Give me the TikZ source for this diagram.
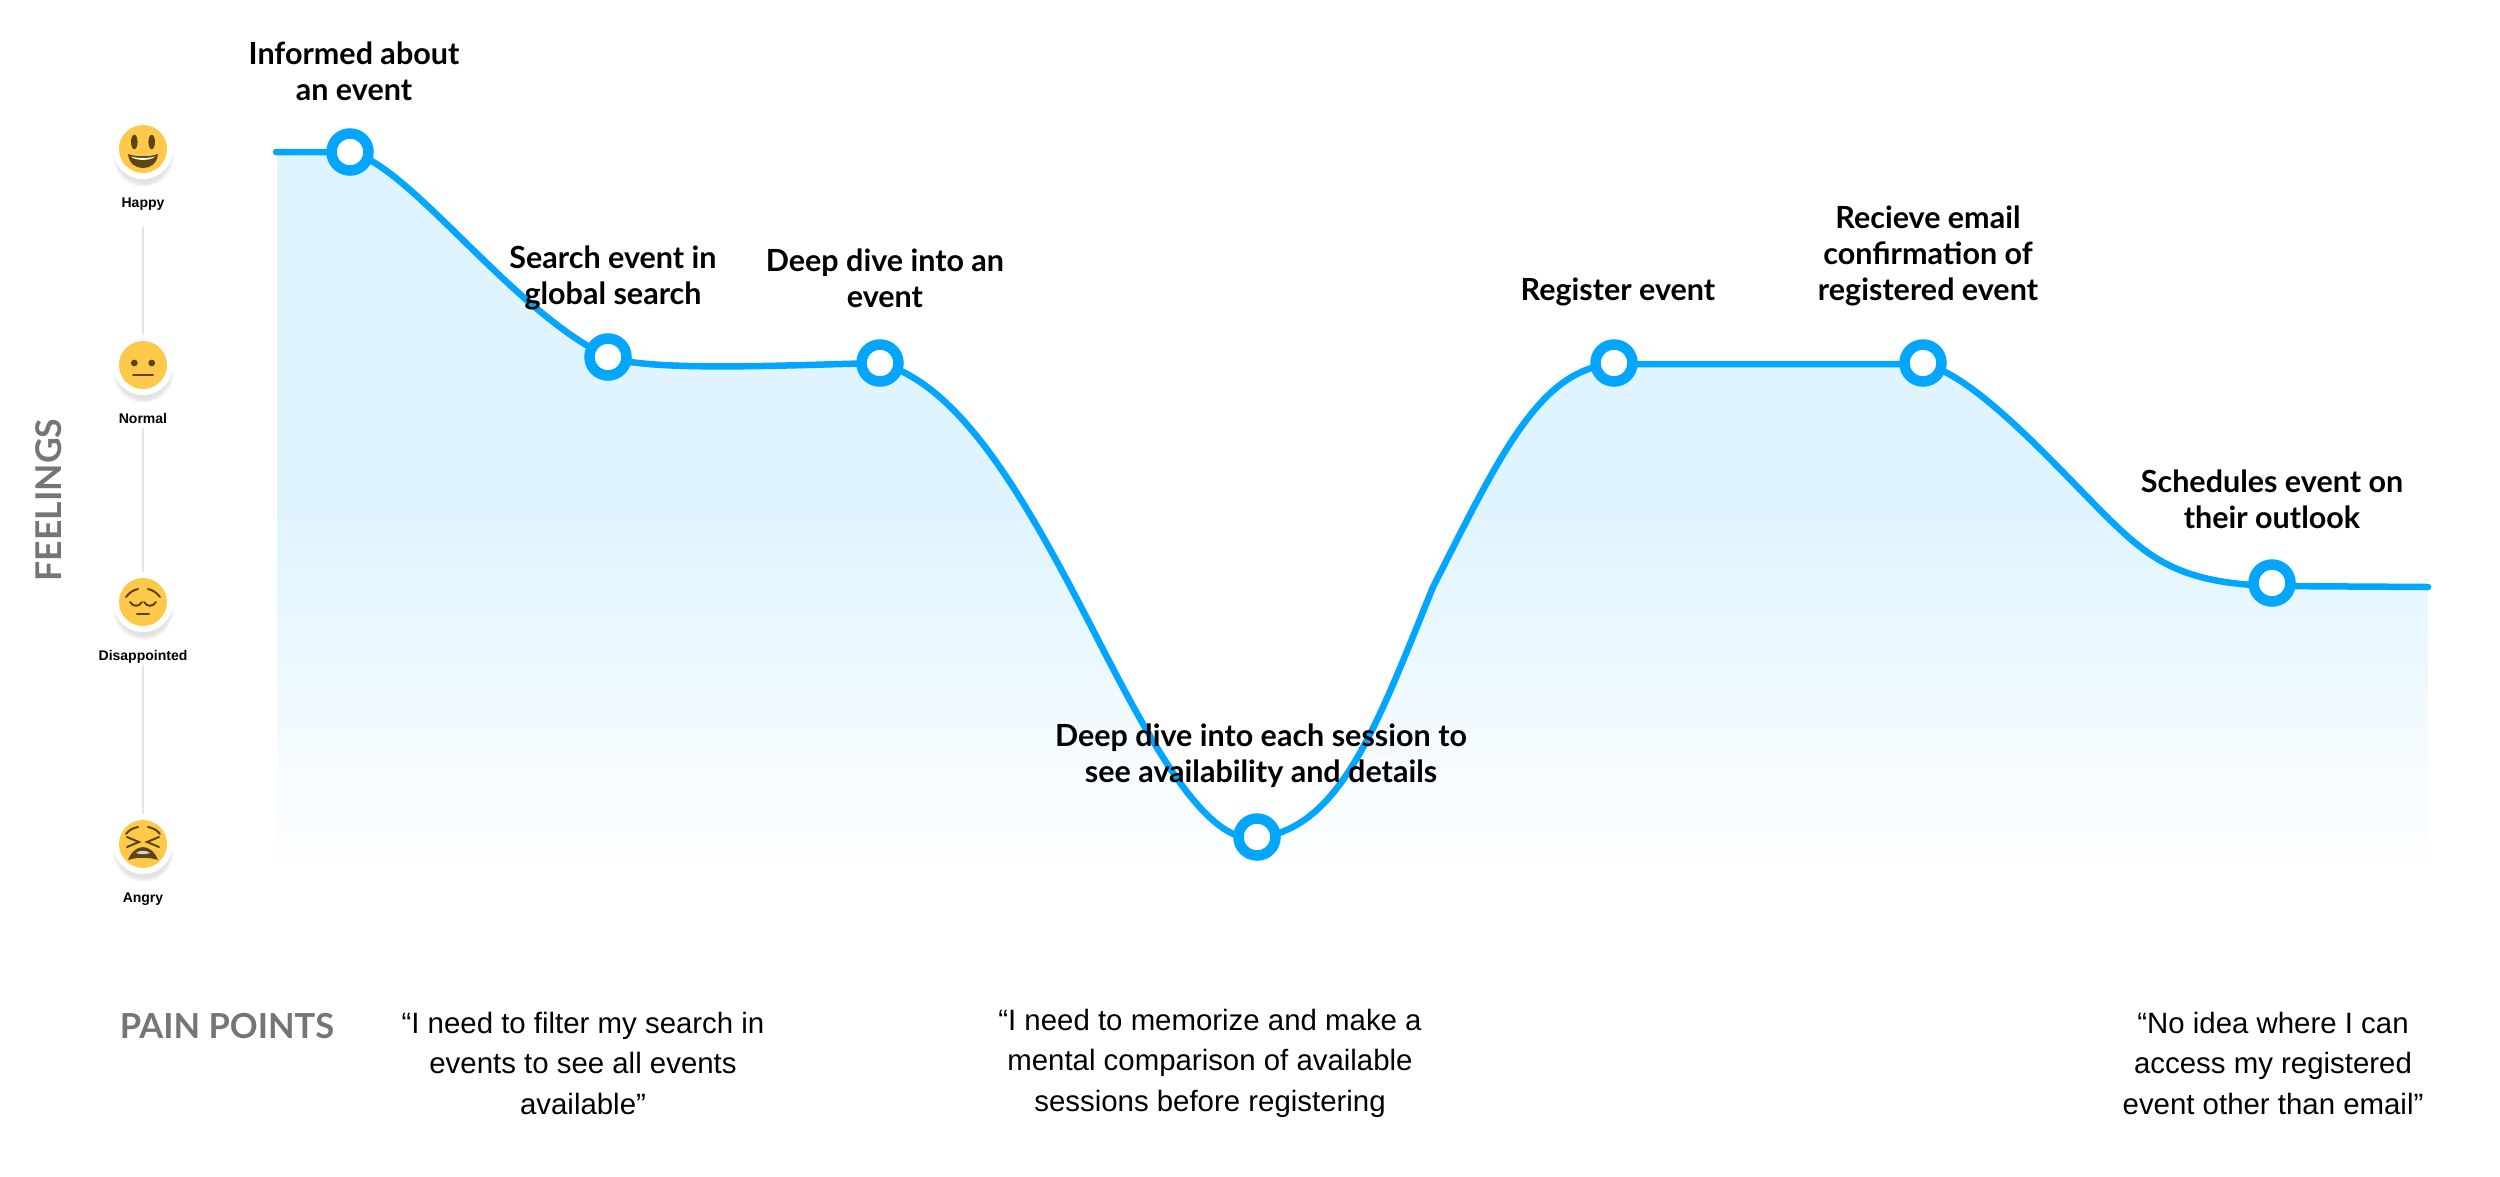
\documentclass[tikz,border=0pt]{standalone}
\usepackage{fontspec}
\setmainfont{Lato}
\newfontfamily\quotefont{Liberation Sans}
\usetikzlibrary{arrows.meta,positioning,shadows}
\definecolor{curveBlue}{HTML}{03A6FF}
\definecolor{softBlue}{HTML}{E0F4FF}
\definecolor{faceAmber}{HTML}{FEC84B}
\definecolor{faceBrown}{HTML}{5E4410}
\definecolor{toothGray}{HTML}{C9D6DC}
\definecolor{titleGray}{HTML}{757575}
\definecolor{lineGray}{HTML}{E4E4E4}
\newcommand{\feelingCurve}{(curveStart) -- (informedPt)
  .. controls (410,165) and (510,310) .. (searchPt)
  .. controls (650,372) and (790,365) .. (divePt)
  .. controls (960,385) and (1023,494) .. (midFall)
  .. controls (1150,741) and (1205,845) .. (sessionPt)
  .. controls (1340,828) and (1375,730) .. (midRise)
  .. controls (1500,455) and (1540,368) .. (registerPt)
  -- (confirmPt)
  .. controls (1975,375) and (2055,465) .. (midDrop)
  .. controls (2150,560) and (2180,583) .. (outlookPt)
  -- (curveEnd)}

\begin{document}
\begin{tikzpicture}[
        x=1pt, y=-1pt,
        stopring/.style={circle, draw=curveBlue, fill=white, line width=10.5pt, minimum size=37pt, inner sep=0pt},
        stoptext/.style={align=center, inner sep=0pt, text=black, font=\fontsize{30.5}{36}\selectfont\bfseries},
        quotetext/.style={align=center, inner sep=0pt, text=black, font=\quotefont\fontsize{29.4}{40.5}\selectfont},
        title/.style={inner sep=0pt, text=titleGray, font=\fontsize{34.5}{40}\selectfont\bfseries},
        badge/.style={circle, fill=white, minimum size=60pt, inner sep=0pt, circular drop shadow={shadow xshift=0pt, shadow yshift=-7pt, shadow scale=1.03, opacity=.22}},
        moodtext/.style={inner sep=0pt, text height=11pt, text depth=3.5pt, text=black, font=\quotefont\fontsize{14}{18}\selectfont\bfseries},
        face/.style={fill=faceAmber},
        feature/.style={draw=faceBrown, line width=2pt, line cap=round},
        scaleline/.style={draw=lineGray, line width=1.5pt},
        curve/.style={draw=curveBlue, line width=6.5pt, line cap=round, line join=round}
      ]
        \useasboundingbox (0,0) rectangle (2500,1176);
        % points on the curve
        \coordinate (curveStart) at (276,152);
        \coordinate (informedPt) at (350,152);
        \coordinate (searchPt) at (608,357);
        \coordinate (divePt) at (880,363);
        \coordinate (midFall) at (1093,630);
        \coordinate (sessionPt) at (1257,838);
        \coordinate (midRise) at (1433,587);
        \coordinate (registerPt) at (1614,364);
        \coordinate (confirmPt) at (1924,364);
        \coordinate (midDrop) at (2103,513);
        \coordinate (outlookPt) at (2272,586);
        \coordinate (curveEnd) at (2428,587);
        \coordinate (areaRight) at (2428,880);
        \coordinate (areaLeft) at (277,880);

        \path[top color=softBlue, bottom color=white, middle color=softBlue] (277,152) -- \feelingCurve -- (areaRight) -- (areaLeft) -- cycle;
        \draw[curve] \feelingCurve;

        \node[stopring] (informed) at (350,152) {};
        \node[stopring] (search) at (608,357) {};
        \node[stopring] (dive) at (880,363) {};
        \node[stopring] (session) at (1257,837) {};
        \node[stopring] (register) at (1614,363) {};
        \node[stopring] (confirm) at (1923,363) {};
        \node[stopring] (outlook) at (2272,583) {};

        \node[stoptext] (informedText) at (354,71) {Informed about\\an event};
        \node[stoptext] (searchText) at (613,278) {Search event in\\global search};
        \node[stoptext] (diveText) at (885,278) {Deep dive into an\\event};
        \node[stoptext] (sessionText) at (1261,756) {Deep dive into each session to\\see availability and details};
        \node[stoptext] (registerText) at (1618,292) {Register event};
        \node[stoptext] (confirmText) at (1928,256) {Recieve email\\confirmation of\\registered event};
        \node[stoptext] (outlookText) at (2272,499) {Schedules event on\\their outlook};

        % mood scale
        \node[badge] (happy) at (143,149) {};
        \node[badge] (normal) at (143,365) {};
        \node[badge] (sad) at (143,602) {};
        \node[badge] (angry) at (143,844) {};
        \node[moodtext] (happyText) at (143,204) {Happy};
        \node[moodtext] (normalText) at (143,420) {Normal};
        \node[moodtext] (sadText) at (143,657) {Disappointed};
        \node[moodtext] (angryText) at (143,899) {Angry};
        \draw[scaleline, shorten <=16pt] (happyText) -- (normal);
        \draw[scaleline, shorten <=1pt] (normalText) -- (sad);
        \draw[scaleline, shorten <=1pt] (sadText) -- (angry);

        \begin{scope}[shift={(happy)}]
          \fill[face] (0,0) circle (24);
          \fill[faceBrown] (-8.7,-7) ellipse (3.3 and 7.3) (8.7,-7) ellipse (3.3 and 7.3);
          \fill[faceBrown] (-15,5) .. controls (-8,8) and (8,8) .. (15,5) .. controls (14,15) and (7,19) .. (0,19) .. controls (-7,19) and (-14,15) .. (-15,5) -- cycle;
          \fill[white] (-12,7.5) .. controls (-6,9.5) and (6,9.5) .. (12,7.5) .. controls (8,12) and (-8,12) .. (-12,7.5) -- cycle;
        \end{scope}
        \begin{scope}[shift={(normal)}]
          \fill[face] (0,0) circle (24);
          \fill[faceBrown] (-8.7,-2) circle (3.4) (8.7,-2) circle (3.4);
          \draw[feature] (-10,9.5) -- (10,9.5);
        \end{scope}
        \begin{scope}[shift={(sad)}]
          \fill[face] (0,0) circle (24);
          \draw[feature] (-17,-5) .. controls (-14,-9) and (-10,-12) .. (-5,-13);
          \draw[feature] (17,-5) .. controls (14,-9) and (10,-12) .. (5,-13);
          \draw[feature] (-13,0) .. controls (-10,5) and (-4,5) .. (-1,0);
          \draw[feature] (13,0) .. controls (10,5) and (4,5) .. (1,0);
          \draw[feature] (-6,12) -- (6,12);
        \end{scope}
        \begin{scope}[shift={(angry)}]
          \fill[face] (0,0) circle (24);
          \draw[feature] (-17,-10) .. controls (-14,-14) and (-10,-16) .. (-5,-17);
          \draw[feature] (17,-10) .. controls (14,-14) and (10,-16) .. (5,-17);
          \draw[feature] (-16,-7) -- (-4,-2) -- (-16,3);
          \draw[feature] (16,-7) -- (4,-2) -- (16,3);
          \fill[faceBrown] (-15,16) .. controls (-12,8) and (-6,3) .. (0,3) .. controls (6,3) and (12,8) .. (15,16) .. controls (6,13) and (-6,13) .. (-15,16) -- cycle;
          \fill[toothGray] (-7,9) .. controls (-4,6) and (4,6) .. (7,9) .. controls (3,10.5) and (-3,10.5) .. (-7,9) -- cycle;
        \end{scope}

        \node[title, rotate=90, font=\fontsize{35.5}{40}\selectfont\bfseries] (feelings) at (49,500) {FEELINGS};
        \node[title] (painPoints) at (227,1026) {PAIN POINTS};

        \node[quotetext] (filterQuote) at (583,1063) {“I need to filter my search in\\events to see all events\\available”};
        \node[quotetext] (memoryQuote) at (1210,1063) {“I need to memorize and make a\\mental comparison of available\\sessions before registering};
        \node[quotetext] (accessQuote) at (2273,1063) {“No idea where I can\\access my registered\\event other than email”};
      \end{tikzpicture}
\end{document}
